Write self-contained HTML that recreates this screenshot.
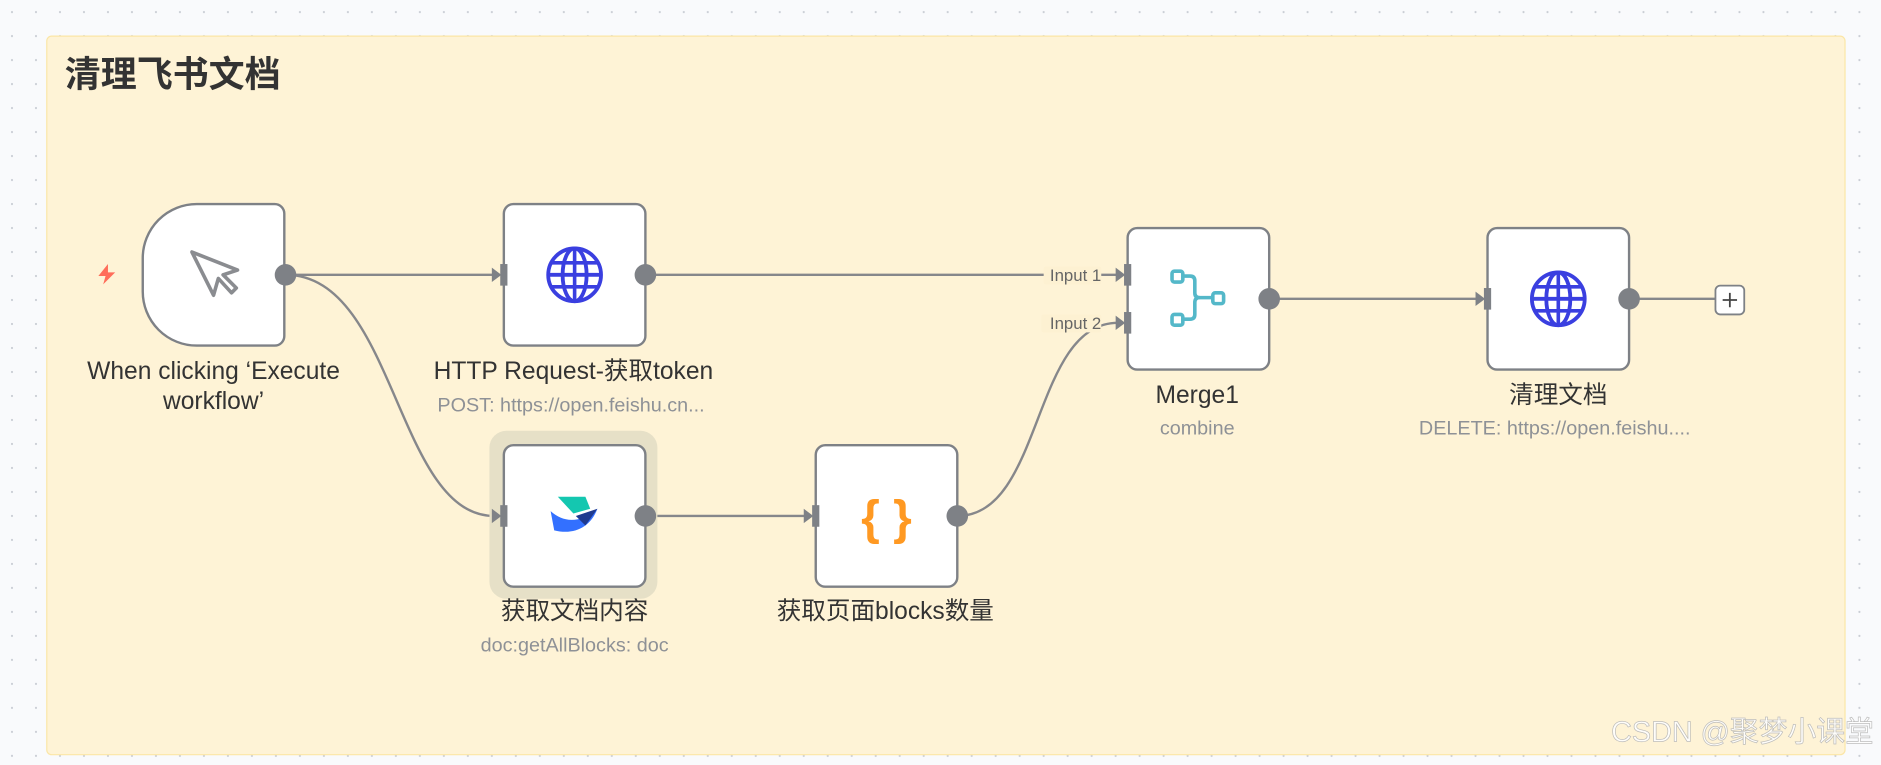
<!DOCTYPE html>
<html><head><meta charset="utf-8"><style>
html,body{margin:0;padding:0;background:#f9fafc;overflow:hidden}
svg{display:block}
text{font-family:"Liberation Sans","Noto Sans CJK SC",sans-serif}
</style></head><body>
<svg width="1881" height="765" viewBox="0 0 1568 637.5" xmlns="http://www.w3.org/2000/svg">
<defs>
<pattern id="dots" width="20" height="20" patternUnits="userSpaceOnUse" x="0" y="0">
<circle cx="10" cy="10" r="0.9" fill="#c9cdd4"/>
</pattern>
<g id="globe">
<circle cx="0" cy="0" r="22" fill="none" stroke="#3a3fe0" stroke-width="3.2"/>
<ellipse cx="0" cy="0" rx="10" ry="22" fill="none" stroke="#3a3fe0" stroke-width="3.2"/>
<line x1="-22" y1="0" x2="22" y2="0" stroke="#3a3fe0" stroke-width="3.2"/>
<line x1="-19" y1="-10" x2="19" y2="-10" stroke="#3a3fe0" stroke-width="3"/>
<line x1="-19" y1="10" x2="19" y2="10" stroke="#3a3fe0" stroke-width="3"/>
<line x1="0" y1="-22" x2="0" y2="22" stroke="#3a3fe0" stroke-width="3"/>
</g>
<g id="inport"><path d="M-10,-6 L-2,0 L-10,6Z" fill="#7e8186"/><rect x="-3" y="-9" width="6" height="18" fill="#7e8186"/></g>
</defs>
<rect width="1568" height="637.5" fill="#f9fafc"/>
<rect width="1568" height="637.5" fill="url(#dots)"/>
<rect x="39" y="30" width="1499" height="599" rx="4" fill="#fef3d6" stroke="#fbe6a6" stroke-width="1"/>
<text x="54" y="72" font-size="30" font-weight="bold" fill="#333">清理飞书文档</text>

<!-- connectors -->
<g fill="none" stroke="#86878b" stroke-width="2">
<path d="M238,229 L412,229"/>
<path d="M238,229 C330,229 330,430 412,430"/>
<path d="M538,229 L932,229"/>
<path d="M538,430 L672,430"/>
<path d="M798,430 C870,430 860,269 932,269"/>
<path d="M1058,249 L1232,249"/>
<path d="M1358,249 L1430,249"/>
</g>

<!-- trigger -->
<path d="M119,215 A45,45 0 0 1 164,170 L229,170 A8,8 0 0 1 237,178 L237,280 A8,8 0 0 1 229,288 L164,288 A45,45 0 0 1 119,243 Z" fill="#fff" stroke="#7e8186" stroke-width="2"/>
<path d="M160,210 L178,246 L182,232 L193,244 L197,240 L186,229 L198,225 Z" fill="none" stroke="#8a8c90" stroke-width="3" stroke-linejoin="round"/>
<path d="M90,220 L82,230 L88,230 L86,237 L96,227 L90,227 Z" fill="#ff6d5a"/>
<circle cx="238" cy="229" r="9" fill="#7e8186"/>
<text x="178" y="316" font-size="20.5" fill="#333" text-anchor="middle">When clicking ‘Execute</text>
<text x="178" y="341" font-size="20.5" fill="#333" text-anchor="middle">workflow’</text>

<!-- HTTP -->
<rect x="420" y="170" width="118" height="118" rx="8" fill="#fff" stroke="#7e8186" stroke-width="2"/>
<use href="#globe" x="479" y="229"/>
<use href="#inport" x="420" y="229"/>
<circle cx="538" cy="229" r="9" fill="#7e8186"/>
<text x="478" y="316" font-size="20.5" fill="#333" text-anchor="middle">HTTP Request-获取token</text>
<text x="476" y="343" font-size="16.5" fill="#8e9196" text-anchor="middle">POST: https://open.feishu.cn...</text>

<!-- feishu -->
<rect x="408" y="359" width="140" height="140" rx="14" fill="#e6e0c7"/>
<rect x="420" y="371" width="118" height="118" rx="8" fill="#fff" stroke="#7e8186" stroke-width="2"/>
<path d="M465,414 L488,414 L492,424 L478,428 Z" fill="#14c7b0"/>
<path d="M459,426 C470,436 484,436 498,424 C492,440 478,446 462,442 Z" fill="#3370ff"/>
<path d="M480,430 L498,424 L488,438 Z" fill="#1f3a8f"/>
<use href="#inport" x="420" y="430"/>
<circle cx="538" cy="430" r="9" fill="#7e8186"/>
<text x="479" y="516" font-size="20.5" fill="#333" text-anchor="middle">获取文档内容</text>
<text x="479" y="543" font-size="16.5" fill="#8e9196" text-anchor="middle">doc:getAllBlocks: doc</text>

<!-- code -->
<rect x="680" y="371" width="118" height="118" rx="8" fill="#fff" stroke="#7e8186" stroke-width="2"/>
<text x="739" y="445" font-size="40" font-weight="bold" fill="#ff9922" text-anchor="middle">{ }</text>
<use href="#inport" x="680" y="430"/>
<circle cx="798" cy="430" r="9" fill="#7e8186"/>
<text x="738" y="516" font-size="20.5" fill="#333" text-anchor="middle">获取页面blocks数量</text>

<!-- merge -->
<rect x="940" y="190" width="118" height="118" rx="8" fill="#fff" stroke="#7e8186" stroke-width="2"/>
<g fill="none" stroke="#54b8c9" stroke-width="3">
<rect x="977" y="226" width="9" height="9" rx="2"/>
<rect x="977" y="262" width="9" height="9" rx="2"/>
<rect x="1011" y="244" width="9" height="9" rx="2"/>
<path d="M986,230 L992,230 Q996,230 996,234 L996,244 Q996,248 1000,248 L1011,248"/>
<path d="M986,266 L992,266 Q996,266 996,262 L996,252 Q996,248 1000,248"/>
</g>
<use href="#inport" x="940" y="229"/>
<use href="#inport" x="940" y="269"/>
<rect x="870" y="222" width="48" height="15" rx="2" fill="#fdf1d2"/>
<text x="918" y="234" font-size="14" fill="#666" text-anchor="end">Input 1</text>
<rect x="868" y="262" width="50" height="15" rx="2" fill="#fdf1d2"/>
<text x="918" y="274" font-size="14" fill="#666" text-anchor="end">Input 2</text>
<circle cx="1058" cy="249" r="9" fill="#7e8186"/>
<text x="998" y="336" font-size="20.5" fill="#333" text-anchor="middle">Merge1</text>
<text x="998" y="362" font-size="16.5" fill="#8e9196" text-anchor="middle">combine</text>

<!-- clean -->
<rect x="1240" y="190" width="118" height="118" rx="8" fill="#fff" stroke="#7e8186" stroke-width="2"/>
<use href="#globe" x="1299" y="249"/>
<use href="#inport" x="1240" y="249"/>
<circle cx="1358" cy="249" r="9" fill="#7e8186"/>
<rect x="1430" y="238" width="24" height="24" rx="4" fill="#fff" stroke="#7e8186" stroke-width="1.5"/>
<path d="M1442,244 L1442,256 M1436,250 L1448,250" stroke="#444" stroke-width="1.5"/>
<text x="1299" y="336" font-size="20.5" fill="#333" text-anchor="middle">清理文档</text>
<text x="1296" y="362" font-size="16.5" fill="#8e9196" text-anchor="middle">DELETE: https://open.feishu....</text>

<text x="1562" y="618" font-size="24" fill="#ffffff" stroke="#b8b8b8" stroke-width="0.6" text-anchor="end" opacity="0.9">CSDN @聚梦小课堂</text>
</svg>
</body></html>
